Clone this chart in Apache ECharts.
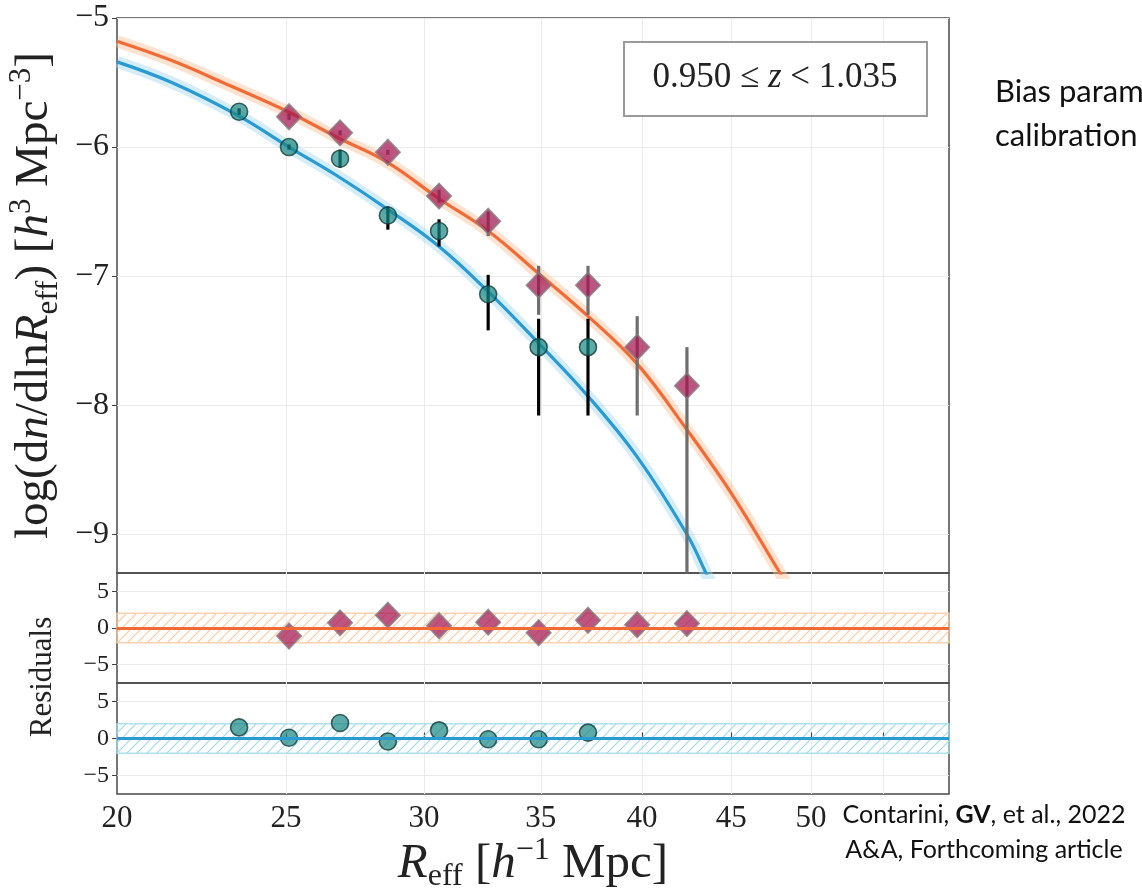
<!DOCTYPE html>
<html>
<head>
<meta charset="utf-8">
<script src="https://cdn.jsdelivr.net/npm/echarts@6/dist/echarts.min.js"></script>
<style>
html,body{margin:0;padding:0;background:#fff;}
#chart{width:1142px;height:891px;}
</style>
</head>
<body>
<div id="chart"></div>
<script>
// ---------------- data ----------------
const X_MIN = 20, X_MAX = 60;
const X_TICKS = [20, 25, 30, 35, 40, 45, 50];
const X_GRID = [25, 30, 35, 40, 45, 50, 55];
const Y_TICKS = [-9, -8, -7, -6, -5];
const Y_MIN = -9.3, Y_MAX = -5;
const RES_TICKS = [-5, 0, 5];
const RES_MIN = -7.5, RES_MAX = 7.5;
const RES_BAND = 2;

// blue series (circles): x, y, lower, upper
const circX  = [23.5, 25.1, 26.85, 28.6, 30.6, 32.65, 34.9, 37.25];
const circY  = [-5.726, -6.0, -6.09, -6.53, -6.65, -7.14, -7.55, -7.55];
const circLo = [-5.75, -6.02, -6.16, -6.64, -6.77, -7.42, -8.08, -8.08];
const circHi = [-5.70, -5.98, -6.02, -6.46, -6.56, -6.99, -7.33, -7.33];
const circRes = [1.5, 0.1, 2.1, -0.4, 1.1, -0.1, -0.1, 0.8];

// orange series (diamonds)
const diaX  = [25.1, 26.85, 28.6, 30.6, 32.65, 34.9, 37.25, 39.75, 42.45];
const diaY  = [-5.765, -5.89, -6.04, -6.38, -6.575, -7.07, -7.07, -7.55, -7.85];
const diaLo = [-5.79, -5.91, -6.06, -6.43, -6.69, -7.30, -7.30, -8.08, -10.5];
const diaHi = [-5.74, -5.87, -6.02, -6.33, -6.50, -6.92, -6.92, -7.31, -7.55];
const diaRes = [-1.1, 0.7, 1.75, 0.3, 0.8, -0.65, 1.05, 0.45, 0.6];

// fitted model curves
const blueFitX = [20, 21.5, 23.5, 25.1, 26.8, 28.65, 30.6, 32.65, 34.9, 37.25, 39.75, 42.45, 43.6, 44.5];
const blueFitY = [-5.34, -5.50, -5.76, -6.00, -6.23, -6.49, -6.77, -7.12, -7.52, -7.93, -8.40, -9.00, -9.32, -9.55];
const orangeFitX = [20, 21.5, 23, 25.1, 26.8, 28.6, 30.6, 32.65, 34.9, 37.25, 39.75, 42.45, 45.1, 48.0, 49.0];
const orangeFitY = [-5.18, -5.33, -5.50, -5.73, -5.93, -6.12, -6.40, -6.65, -6.98, -7.31, -7.68, -8.19, -8.70, -9.30, -9.50];

// ---------------- styles ----------------
const ORANGE = '#f26a35', BLUE = '#2a9ad3';
const SERIF = '"Liberation Serif", "DejaVu Serif", serif';
const SANS = 'Lato, "Open Sans", sans-serif';
const zip = (a, b) => a.map((v, i) => [v, b[i]]);
const minus = v => (v < 0 ? '\u2212' + Math.abs(v) : '' + v);

function hatch(color) {
  const c = document.createElement('canvas');
  c.width = 10; c.height = 10;
  const g = c.getContext('2d');
  g.strokeStyle = color; g.lineWidth = 1.2;
  g.beginPath();
  g.moveTo(0, 10); g.lineTo(10, 0);
  g.moveTo(-1, 1); g.lineTo(1, -1);
  g.moveTo(9, 11); g.lineTo(11, 9);
  g.stroke();
  return { image: c, repeat: 'repeat' };
}

const circStyle = { color: 'rgba(24,135,131,0.88)', borderColor: '#163f3d', borderWidth: 1.6 };
const diaStyle = { color: 'rgba(165,20,80,0.9)', borderColor: '#867880', borderWidth: 2 };

function errBar(color) {
  return function (params, api) {
    const x = api.value(0);
    const p1 = api.coord([x, api.value(1)]);
    const p2 = api.coord([x, api.value(2)]);
    const cs = params.coordSys;
    const clampY = y => Math.max(cs.y, Math.min(cs.y + cs.height, y));
    return {
      type: 'line',
      shape: { x1: p1[0], y1: clampY(p1[1]), x2: p2[0], y2: clampY(p2[1]) },
      style: { stroke: color, lineWidth: 3.2 }
    };
  };
}

const grids = [
  { left: 117, top: 18, width: 832, height: 555 },
  { left: 117, top: 573, width: 832, height: 110 },
  { left: 117, top: 683, width: 832, height: 111 }
].map(g => Object.assign(g, { show: true, borderColor: '#4a4a4a', borderWidth: 1.5, containLabel: false, outerBoundsMode: 'none' }));

function rich(fs, sfs) {
  return {
    n: { fontFamily: SERIF, fontSize: fs, color: '#222', lineHeight: 58, verticalAlign: 'middle' },
    i: { fontFamily: SERIF, fontSize: fs, fontStyle: 'italic', color: '#222', lineHeight: 58, verticalAlign: 'middle' },
    sub: { fontFamily: SERIF, fontSize: sfs, color: '#222', lineHeight: 58, verticalAlign: 'bottom' },
    sup: { fontFamily: SERIF, fontSize: sfs, color: '#222', lineHeight: 58, verticalAlign: 'top' }
  };
}

function xAxis(idx, showLabels) {
  const ax = {
    type: 'log', logBase: 10, gridIndex: idx, min: X_MIN, max: X_MAX,
    axisLine: { show: false },
    axisTick: { show: showLabels, inside: true, length: 6, customValues: X_GRID, lineStyle: { color: '#444', width: 1.2 } },
    axisLabel: { show: showLabels, customValues: X_TICKS, fontFamily: SERIF, fontSize: 31, color: '#222', margin: 9 },
    splitLine: { show: true, lineStyle: { color: '#ebebeb', width: 1 } }
  };
  if (showLabels) {
    ax.name = '{i|R}{sub|eff}{n| [}{i|h}{sup|\u22121}{n| Mpc]}';
    ax.nameLocation = 'middle';
    ax.nameGap = 27;
    ax.nameTextStyle = { fontFamily: SERIF, color: '#222', rich: rich(49, 32) };
  }
  return ax;
}

function yAxis(idx, min, max, ticks, fs) {
  return {
    type: 'value', gridIndex: idx, min: min, max: max,
    axisLine: { show: false },
    axisTick: { show: true, length: 5, customValues: ticks, lineStyle: { color: '#444' } },
    axisLabel: { customValues: ticks, formatter: minus, fontFamily: SERIF, fontSize: fs, color: '#222', margin: 8 },
    splitLine: { show: true, lineStyle: { color: '#ebebeb', width: 1 } }
  };
}

const mainY = yAxis(0, Y_MIN, Y_MAX, Y_TICKS, 32);
mainY.name = '{n|log(d}{i|n}{n|/dln}{i|R}{sub|eff}{n|) [}{i|h}{sup|3}{n| Mpc}{sup|\u22123}{n|]}';
mainY.nameLocation = 'middle';
mainY.nameRotate = 90;
mainY.nameGap = 51;
mainY.nameTextStyle = { fontFamily: SERIF, color: '#222', rich: rich(47, 31) };

const option = {
  animation: false,
  backgroundColor: '#fff',
  grid: grids,
  xAxis: [xAxis(0, false), xAxis(1, false), xAxis(2, true)],
  yAxis: [mainY, yAxis(1, RES_MIN, RES_MAX, RES_TICKS, 24), yAxis(2, RES_MIN, RES_MAX, RES_TICKS, 24)],
  series: [
    { type: 'line', xAxisIndex: 0, yAxisIndex: 0, data: zip(orangeFitX, orangeFitY), smooth: 0.4, showSymbol: false, symbol: 'none',
      lineStyle: { color: 'rgba(252,190,150,0.45)', width: 12 }, z: 1, silent: true },
    { type: 'line', xAxisIndex: 0, yAxisIndex: 0, data: zip(blueFitX, blueFitY), smooth: 0.4, showSymbol: false, symbol: 'none',
      lineStyle: { color: 'rgba(160,215,240,0.45)', width: 12 }, z: 1, silent: true },
    { type: 'line', xAxisIndex: 0, yAxisIndex: 0, data: zip(orangeFitX, orangeFitY), smooth: 0.4, showSymbol: false, symbol: 'none',
      lineStyle: { color: ORANGE, width: 3.2 }, z: 2 },
    { type: 'line', xAxisIndex: 0, yAxisIndex: 0, data: zip(blueFitX, blueFitY), smooth: 0.4, showSymbol: false, symbol: 'none',
      lineStyle: { color: BLUE, width: 3.2 }, z: 2 },
    { type: 'custom', xAxisIndex: 0, yAxisIndex: 0, renderItem: errBar('#6e6e6e'),
      data: diaX.map((x, i) => [x, diaLo[i], diaHi[i]]), encode: { x: 0, y: [1, 2] }, z: 3 },
    { type: 'custom', xAxisIndex: 0, yAxisIndex: 0, renderItem: errBar('#000'),
      data: circX.map((x, i) => [x, circLo[i], circHi[i]]), encode: { x: 0, y: [1, 2] }, z: 3 },
    { type: 'scatter', xAxisIndex: 0, yAxisIndex: 0, data: zip(diaX, diaY), symbol: 'diamond', symbolSize: [24, 25],
      itemStyle: diaStyle, z: 4 },
    { type: 'scatter', xAxisIndex: 0, yAxisIndex: 0, data: zip(circX, circY), symbol: 'circle', symbolSize: 17,
      itemStyle: circStyle, z: 4 },
    { type: 'scatter', xAxisIndex: 1, yAxisIndex: 1, data: zip(diaX, diaRes), symbol: 'diamond', symbolSize: [24, 25],
      itemStyle: diaStyle, z: 4,
      markArea: { silent: true, z: 1, itemStyle: { color: hatch('rgba(250,195,150,0.9)'), borderColor: 'rgba(250,205,165,0.9)', borderWidth: 1.5 },
        data: [[{ yAxis: -RES_BAND }, { yAxis: RES_BAND }]] },
      markLine: { silent: true, symbol: 'none', label: { show: false }, lineStyle: { color: ORANGE, width: 3.2, type: 'solid' },
        data: [{ yAxis: 0 }] } },
    { type: 'scatter', xAxisIndex: 2, yAxisIndex: 2, data: zip(circX, circRes), symbol: 'circle', symbolSize: 17,
      itemStyle: circStyle, z: 4,
      markArea: { silent: true, z: 1, itemStyle: { color: hatch('rgba(150,215,230,0.9)'), borderColor: 'rgba(165,222,235,0.9)', borderWidth: 1.5 },
        data: [[{ yAxis: -RES_BAND }, { yAxis: RES_BAND }]] },
      markLine: { silent: true, symbol: 'none', label: { show: false }, lineStyle: { color: BLUE, width: 3.2, type: 'solid' },
        data: [{ yAxis: 0 }] } }
  ],
  graphic: [
    { type: 'rect', left: 623, top: 41, z: 10,
      shape: { width: 303, height: 74 }, style: { fill: '#fff', stroke: '#9a9a9a', lineWidth: 2 } },
    { type: 'text', x: 775, y: 78, z: 11,
      style: { text: '{n|0.950 \u2264 }{i|z}{n| < 1.035}', align: 'center', verticalAlign: 'middle',
        rich: { n: { fontFamily: SERIF, fontSize: 35, fill: '#222' }, i: { fontFamily: SERIF, fontSize: 35, fontStyle: 'italic', fill: '#222' } } } },
    { type: 'text', x: 43, y: 677, rotation: Math.PI / 2, z: 11,
      style: { text: 'Residuals', fontFamily: SERIF, fontSize: 31, fill: '#222', align: 'center', verticalAlign: 'middle' } },
    { type: 'text', x: 995, y: 70, z: 11,
      style: { text: 'Bias parameters\ncalibration', fontFamily: SANS, fontSize: 31, lineHeight: 44, fill: '#111', align: 'left', verticalAlign: 'top' } },
    { type: 'text', x: 984, y: 797, z: 11,
      style: { text: 'Contarini, {b|GV}, et al., 2022\nA&A, Forthcoming article', fontFamily: SANS, fontSize: 25, lineHeight: 35, fill: '#111', align: 'center', verticalAlign: 'top',
        rich: { b: { fontFamily: SANS, fontSize: 25, fontWeight: 'bold', fill: '#111' } } } }
  ]
};

const chart = echarts.init(document.getElementById('chart'), null, { renderer: 'canvas' });
chart.setOption(option);
</script>
</body>
</html>
